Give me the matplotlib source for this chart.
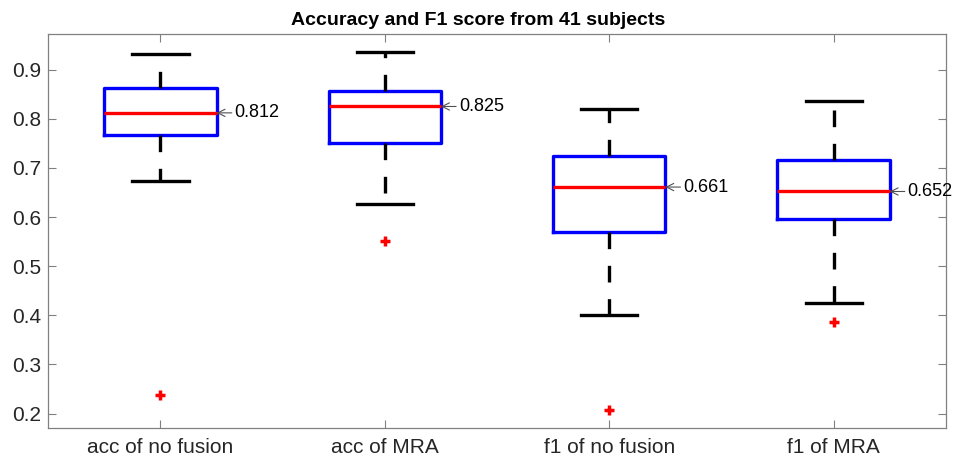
import matplotlib
matplotlib.use("Agg")
import matplotlib.pyplot as plt

plt.rcParams["font.family"] = ["Liberation Sans", "DejaVu Sans"]

# Box statistics per group (41 subjects)
labels = ["acc of no fusion", "acc of MRA", "f1 of no fusion", "f1 of MRA"]
medians = [0.812, 0.825, 0.661, 0.652]
q1 = [0.767, 0.750, 0.569, 0.596]
q3 = [0.862, 0.857, 0.725, 0.716]
whislo = [0.673, 0.626, 0.400, 0.426]
whishi = [0.932, 0.936, 0.820, 0.837]
outliers = [[0.237], [0.551], [0.207], [0.387]]

stats = []
for i, lab in enumerate(labels):
    stats.append({
        "label": lab,
        "med": medians[i],
        "q1": q1[i],
        "q3": q3[i],
        "whislo": whislo[i],
        "whishi": whishi[i],
        "fliers": outliers[i],
    })

fig = plt.figure(figsize=(9.55, 4.58), dpi=100)
ax = fig.add_axes([0.0506, 0.0648, 0.9397, 0.860])

positions = list(range(1, len(labels) + 1))
ax.bxp(
    stats,
    positions=positions,
    widths=0.5,
    boxprops=dict(color="#0000ff", linewidth=2.4),
    medianprops=dict(color="#ff0000", linewidth=2.4),
    whiskerprops=dict(color="black", linewidth=2.4, linestyle=(0, (5, 5))),
    capprops=dict(color="black", linewidth=2.4),
    flierprops=dict(marker="+", markeredgecolor="#ff0000", markersize=7,
                    markeredgewidth=2.5, linestyle="none"),
)

# Median value labels with a small arrow pointing at the box edge
for pos, med in zip(positions, medians):
    ax.annotate(f"{med:.3f}", xy=(pos + 0.25, med), xytext=(pos + 0.33, med),
                ha="left", va="center", fontsize=13, color="black",
                arrowprops=dict(arrowstyle="->", color="#505050", lw=0.8,
                                shrinkA=0, shrinkB=0))

ax.set_xlim(0.5, 4.5)
ax.set_ylim(0.170, 0.9716)
ax.set_yticks([0.2, 0.3, 0.4, 0.5, 0.6, 0.7, 0.8, 0.9])
ax.set_xticks(positions)
ax.set_xticklabels(labels)

ax.tick_params(axis="both", direction="in", length=6, width=0.8,
               colors="#808080", labelcolor="#262626", labelsize=15,
               top=True, right=True)
ax.tick_params(axis="x", pad=7)
ax.tick_params(axis="y", pad=5)
for s in ax.spines.values():
    s.set_color("#808080")
    s.set_linewidth(0.9)

title = ax.set_title("Accuracy and F1 score from 41 subjects", fontsize=14,
                     fontweight="bold", pad=7)
title.set_x(0.479)

fig.savefig("out.png", dpi=100)
